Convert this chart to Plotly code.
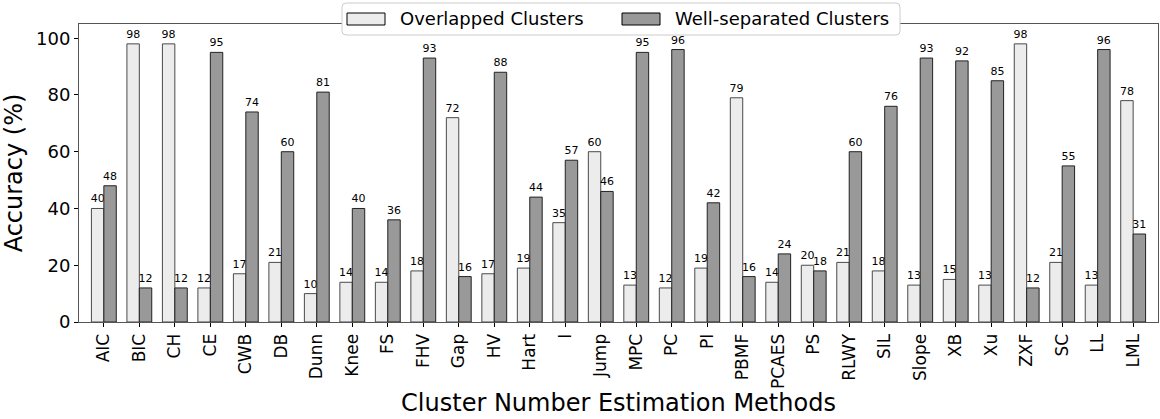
import plotly.graph_objects as go

methods = ["AIC", "BIC", "CH", "CE", "CWB", "DB", "Dunn", "Knee", "FS", "FHV",
           "Gap", "HV", "Hart", "I", "Jump", "MPC", "PC", "PI", "PBMF", "PCAES",
           "PS", "RLWY", "SIL", "Slope", "XB", "Xu", "ZXF", "SC", "LL", "LML"]
overlapped = [40, 98, 98, 12, 17, 21, 10, 14, 14, 18,
              72, 17, 19, 35, 60, 13, 12, 19, 79, 14,
              20, 21, 18, 13, 15, 13, 98, 21, 13, 78]
well_separated = [48, 12, 12, 95, 74, 60, 81, 40, 36, 93,
                  16, 88, 44, 57, 46, 95, 96, 42, 16, 24,
                  18, 60, 76, 93, 92, 85, 12, 55, 96, 31]
series_names = ["Overlapped Clusters", "Well-separated Clusters"]
y_ticks = [0, 20, 40, 60, 80, 100]

FONT = "DejaVu Sans"
LIGHT = "#ececec"
DARK = "#999999"

W, H = 1160, 419
ML, MR, MT, MB = 79, 2, 24, 97
PW, PH = W - ML - MR, H - MT - MB


def px(x):
    return (x - ML) / PW


def py(y):
    return (H - MB - y) / PH


fig = go.Figure()
fig.add_trace(go.Bar(
    x=methods, y=overlapped, name=series_names[0],
    marker=dict(color=LIGHT, line=dict(color="#4a4a4a", width=1)),
    text=overlapped, textposition="outside", cliponaxis=False,
    constraintext="none",
    textfont=dict(family=FONT, size=11, color="black"),
    showlegend=False,
))
fig.add_trace(go.Bar(
    x=methods, y=well_separated, name=series_names[1],
    marker=dict(color=DARK, line=dict(color="#222222", width=1)),
    text=well_separated, textposition="outside", cliponaxis=False,
    constraintext="none",
    textfont=dict(family=FONT, size=11, color="black"),
    showlegend=False,
))

# custom legend (matplotlib style)
x0, x1, y0, y1, r = 342, 900, 3, 35, 4
path = (f"M {px(x0+r)},{py(y0)} L {px(x1-r)},{py(y0)} Q {px(x1)},{py(y0)} {px(x1)},{py(y0+r)} "
        f"L {px(x1)},{py(y1-r)} Q {px(x1)},{py(y1)} {px(x1-r)},{py(y1)} "
        f"L {px(x0+r)},{py(y1)} Q {px(x0)},{py(y1)} {px(x0)},{py(y1-r)} "
        f"L {px(x0)},{py(y0+r)} Q {px(x0)},{py(y0)} {px(x0+r)},{py(y0)} Z")
shapes = [dict(type="path", xref="paper", yref="paper", path=path,
               fillcolor="white", line=dict(color="#cccccc", width=1), layer="above")]
annotations = []
for sx, tx, col, name in [(347, 398, LIGHT, series_names[0]), (622, 673, DARK, series_names[1])]:
    shapes.append(dict(type="rect", xref="paper", yref="paper",
                       x0=px(sx), x1=px(sx + 38), y0=py(13), y1=py(25),
                       fillcolor=col, line=dict(color="black", width=1), layer="above"))
    annotations.append(dict(xref="paper", yref="paper", x=px(tx), y=py(19),
                            xanchor="left", yanchor="middle", showarrow=False,
                            text=name, font=dict(family=FONT, size=18, color="black")))

fig.update_layout(
    width=W, height=H,
    margin=dict(l=ML, r=MR, t=MT, b=MB),
    paper_bgcolor="white", plot_bgcolor="white",
    barmode="group", bargap=0.3, bargroupgap=0,
    font=dict(family=FONT, color="black"),
    shapes=shapes, annotations=annotations,
    xaxis=dict(
        range=[-0.7, 29.7],
        tickangle=-90, tickfont=dict(family=FONT, size=17),
        ticks="outside", ticklen=4, tickcolor="black",
        showline=True, linecolor="#555555", linewidth=1, mirror=True,
        showgrid=False,
        title=dict(text="Cluster Number Estimation Methods",
                   font=dict(family=FONT, size=24), standoff=2),
    ),
    yaxis=dict(
        range=[0, 105], tickvals=y_ticks,
        tickfont=dict(family=FONT, size=18),
        ticks="outside", ticklen=4, tickcolor="black",
        showline=True, linecolor="#555555", linewidth=1, mirror=True,
        showgrid=False, zeroline=False,
        title=dict(text="Accuracy (%)", font=dict(family=FONT, size=24), standoff=6),
    ),
)

fig.write_html("out.html")
